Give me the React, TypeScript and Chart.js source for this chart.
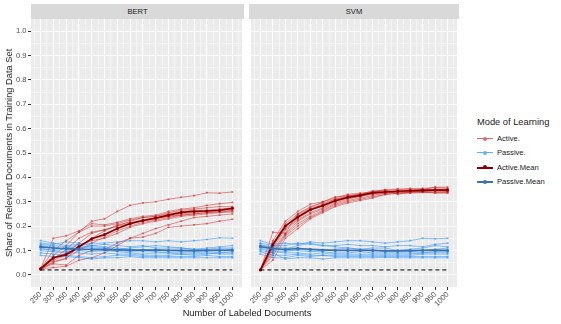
import React, { useEffect, useRef } from "react";
import { Chart, registerables } from "chart.js";

Chart.register(...registerables);

// ---------- data ----------
const DOCS = [250, 300, 350, 400, 450, 500, 550, 600, 650, 700, 750, 800, 850, 900, 950, 1000];
const Y_TICKS = [0, 0.1, 0.2, 0.3, 0.4, 0.5, 0.6, 0.7, 0.8, 0.9, 1.0];
const BASELINE = 0.02;
const PANELS = ["BERT", "SVM"];
const LEGEND_LABELS = ["Active.", "Passive.", "Active.Mean", "Passive.Mean"];

const BERT_ACTIVE_RUNS = [
  [0.025, 0.10, 0.14, 0.175, 0.22, 0.23, 0.26, 0.285, 0.295, 0.30, 0.31, 0.318, 0.325, 0.337, 0.335, 0.34],
  [0.025, 0.15, 0.16, 0.18, 0.21, 0.205, 0.215, 0.23, 0.24, 0.245, 0.26, 0.27, 0.275, 0.285, 0.292, 0.297],
  [0.025, 0.08, 0.12, 0.175, 0.20, 0.20, 0.21, 0.225, 0.235, 0.24, 0.255, 0.265, 0.27, 0.275, 0.28, 0.28],
  [0.02, 0.07, 0.09, 0.13, 0.17, 0.185, 0.20, 0.22, 0.235, 0.24, 0.25, 0.26, 0.265, 0.265, 0.27, 0.275],
  [0.025, 0.06, 0.08, 0.11, 0.15, 0.18, 0.205, 0.215, 0.225, 0.235, 0.24, 0.25, 0.255, 0.26, 0.265, 0.27],
  [0.025, 0.05, 0.07, 0.10, 0.13, 0.155, 0.18, 0.20, 0.215, 0.225, 0.235, 0.245, 0.25, 0.255, 0.258, 0.262],
  [0.02, 0.055, 0.065, 0.12, 0.14, 0.15, 0.17, 0.195, 0.21, 0.22, 0.23, 0.24, 0.245, 0.25, 0.255, 0.258],
  [0.025, 0.045, 0.04, 0.08, 0.10, 0.105, 0.13, 0.15, 0.17, 0.19, 0.205, 0.22, 0.235, 0.24, 0.245, 0.25],
  [0.025, 0.03, 0.035, 0.06, 0.07, 0.09, 0.12, 0.15, 0.155, 0.17, 0.195, 0.20, 0.205, 0.21, 0.22, 0.228],
  [0.025, 0.065, 0.105, 0.15, 0.175, 0.185, 0.20, 0.21, 0.22, 0.23, 0.24, 0.245, 0.25, 0.255, 0.26, 0.265],
];
const BERT_PASSIVE_RUNS = [
  [0.14, 0.13, 0.12, 0.125, 0.13, 0.13, 0.135, 0.14, 0.14, 0.135, 0.14, 0.135, 0.14, 0.145, 0.152, 0.15],
  [0.13, 0.125, 0.135, 0.13, 0.12, 0.125, 0.12, 0.115, 0.12, 0.11, 0.11, 0.11, 0.105, 0.11, 0.115, 0.12],
  [0.12, 0.115, 0.10, 0.11, 0.12, 0.115, 0.11, 0.105, 0.10, 0.105, 0.10, 0.10, 0.10, 0.105, 0.11, 0.11],
  [0.115, 0.11, 0.105, 0.10, 0.095, 0.10, 0.10, 0.10, 0.105, 0.10, 0.10, 0.095, 0.095, 0.10, 0.10, 0.10],
  [0.11, 0.10, 0.11, 0.115, 0.11, 0.10, 0.095, 0.09, 0.085, 0.09, 0.09, 0.09, 0.09, 0.095, 0.09, 0.095],
  [0.10, 0.095, 0.09, 0.09, 0.085, 0.09, 0.085, 0.085, 0.08, 0.08, 0.08, 0.085, 0.08, 0.085, 0.09, 0.09],
  [0.09, 0.085, 0.08, 0.075, 0.07, 0.075, 0.08, 0.08, 0.075, 0.075, 0.075, 0.075, 0.075, 0.08, 0.075, 0.075],
  [0.08, 0.075, 0.075, 0.07, 0.065, 0.07, 0.07, 0.075, 0.07, 0.07, 0.07, 0.07, 0.07, 0.07, 0.07, 0.07],
  [0.125, 0.12, 0.115, 0.12, 0.115, 0.11, 0.105, 0.11, 0.115, 0.12, 0.115, 0.11, 0.105, 0.10, 0.105, 0.105],
  [0.105, 0.10, 0.095, 0.10, 0.105, 0.11, 0.10, 0.095, 0.095, 0.095, 0.09, 0.085, 0.085, 0.09, 0.085, 0.085],
];
const BERT_ACTIVE_MEAN = [0.025, 0.07, 0.083, 0.115, 0.148, 0.165, 0.19, 0.21, 0.223, 0.233, 0.245, 0.256, 0.26, 0.262, 0.265, 0.273];
const BERT_PASSIVE_MEAN = [0.115, 0.11, 0.108, 0.106, 0.104, 0.103, 0.102, 0.101, 0.101, 0.101, 0.10, 0.10, 0.099, 0.10, 0.10, 0.101];

const SVM_ACTIVE_RUNS = [
  [0.02, 0.175, 0.17, 0.25, 0.28, 0.295, 0.31, 0.325, 0.33, 0.34, 0.35, 0.352, 0.35, 0.355, 0.358, 0.355],
  [0.02, 0.14, 0.22, 0.26, 0.29, 0.30, 0.315, 0.33, 0.335, 0.34, 0.345, 0.35, 0.355, 0.35, 0.36, 0.36],
  [0.02, 0.13, 0.20, 0.245, 0.27, 0.29, 0.31, 0.32, 0.33, 0.335, 0.34, 0.345, 0.348, 0.35, 0.352, 0.35],
  [0.02, 0.12, 0.19, 0.23, 0.265, 0.285, 0.305, 0.315, 0.325, 0.34, 0.345, 0.34, 0.345, 0.345, 0.348, 0.345],
  [0.02, 0.11, 0.185, 0.225, 0.255, 0.275, 0.30, 0.315, 0.32, 0.335, 0.338, 0.342, 0.344, 0.342, 0.345, 0.345],
  [0.02, 0.10, 0.17, 0.22, 0.25, 0.27, 0.295, 0.31, 0.325, 0.33, 0.335, 0.34, 0.34, 0.345, 0.345, 0.342],
  [0.02, 0.09, 0.165, 0.21, 0.24, 0.265, 0.29, 0.305, 0.315, 0.325, 0.335, 0.338, 0.34, 0.34, 0.34, 0.34],
  [0.02, 0.08, 0.16, 0.20, 0.235, 0.26, 0.285, 0.30, 0.31, 0.32, 0.33, 0.335, 0.335, 0.338, 0.338, 0.338],
  [0.02, 0.06, 0.15, 0.19, 0.23, 0.255, 0.28, 0.295, 0.305, 0.315, 0.33, 0.335, 0.338, 0.34, 0.335, 0.335],
  [0.02, 0.13, 0.21, 0.25, 0.275, 0.30, 0.32, 0.325, 0.33, 0.345, 0.348, 0.33, 0.34, 0.35, 0.35, 0.352],
];
const SVM_PASSIVE_RUNS = [
  [0.14, 0.125, 0.13, 0.125, 0.135, 0.13, 0.135, 0.14, 0.14, 0.135, 0.13, 0.135, 0.14, 0.15, 0.148, 0.15],
  [0.13, 0.12, 0.12, 0.13, 0.125, 0.12, 0.12, 0.125, 0.12, 0.12, 0.115, 0.12, 0.12, 0.115, 0.125, 0.13],
  [0.125, 0.11, 0.105, 0.12, 0.13, 0.12, 0.115, 0.11, 0.105, 0.11, 0.11, 0.10, 0.105, 0.11, 0.12, 0.115],
  [0.12, 0.115, 0.11, 0.11, 0.105, 0.10, 0.105, 0.11, 0.105, 0.10, 0.10, 0.10, 0.10, 0.10, 0.105, 0.11],
  [0.115, 0.105, 0.10, 0.10, 0.095, 0.10, 0.10, 0.10, 0.10, 0.10, 0.095, 0.095, 0.095, 0.10, 0.10, 0.10],
  [0.11, 0.10, 0.095, 0.105, 0.10, 0.095, 0.09, 0.09, 0.095, 0.09, 0.09, 0.09, 0.09, 0.09, 0.095, 0.095],
  [0.105, 0.095, 0.09, 0.09, 0.085, 0.09, 0.085, 0.085, 0.085, 0.085, 0.085, 0.085, 0.085, 0.09, 0.09, 0.09],
  [0.095, 0.08, 0.08, 0.085, 0.08, 0.08, 0.08, 0.08, 0.08, 0.08, 0.08, 0.08, 0.08, 0.085, 0.085, 0.085],
  [0.085, 0.07, 0.07, 0.08, 0.075, 0.08, 0.075, 0.075, 0.075, 0.075, 0.075, 0.075, 0.075, 0.075, 0.075, 0.075],
  [0.10, 0.09, 0.065, 0.07, 0.07, 0.065, 0.07, 0.07, 0.07, 0.07, 0.072, 0.07, 0.07, 0.07, 0.07, 0.07],
];
const SVM_ACTIVE_MEAN = [0.02, 0.123, 0.20, 0.237, 0.267, 0.284, 0.304, 0.318, 0.326, 0.336, 0.34, 0.343, 0.345, 0.347, 0.348, 0.348];
const SVM_PASSIVE_MEAN = [0.116, 0.108, 0.104, 0.108, 0.105, 0.102, 0.1, 0.1, 0.1, 0.1, 0.098, 0.098, 0.099, 0.1, 0.101, 0.1];

// ---------- styles ----------
const FONT = "'Liberation Sans', Arial, Helvetica, sans-serif";
const COL_ACTIVE = "rgba(200,40,40,0.6)";
const COL_PASSIVE = "rgba(40,145,245,0.62)";
const COL_ACTIVE_MEAN = "#8E0000";
const COL_PASSIVE_MEAN = "#3A73AD";
const LEGEND_COLORS = ["rgb(215,110,110)", "rgb(100,175,245)", COL_ACTIVE_MEAN, COL_PASSIVE_MEAN];
const PANEL_BG = "#EBEBEB";

const X_MIN = 212.5;
const X_MAX = 1037.5;
const Y_MIN = -0.05;
const Y_MAX = 1.05;

const toPts = (ys: number[]) => ys.map((y, i) => ({ x: DOCS[i], y }));

function buildDatasets(activeRuns: number[][], passiveRuns: number[][], activeMean: number[], passiveMean: number[]) {
  const ds: any[] = [];
  activeRuns.forEach((r) =>
    ds.push({ data: toPts(r), borderColor: COL_ACTIVE, backgroundColor: COL_ACTIVE, borderWidth: 0.85, pointRadius: 1.1, pointBorderWidth: 0, order: 5 })
  );
  passiveRuns.forEach((r) =>
    ds.push({ data: toPts(r), borderColor: COL_PASSIVE, backgroundColor: COL_PASSIVE, borderWidth: 0.85, pointRadius: 1.1, pointBorderWidth: 0, order: 4 })
  );
  ds.push({ data: toPts(activeMean), borderColor: COL_ACTIVE_MEAN, backgroundColor: COL_ACTIVE_MEAN, borderWidth: 1.7, pointRadius: 1.5, pointBorderWidth: 0, order: 3 });
  ds.push({ data: toPts(passiveMean), borderColor: COL_PASSIVE_MEAN, backgroundColor: COL_PASSIVE_MEAN, borderWidth: 1.7, pointRadius: 1.5, pointBorderWidth: 0, order: 2 });
  ds.push({
    data: [{ x: DOCS[0], y: BASELINE }, { x: DOCS[DOCS.length - 1], y: BASELINE }],
    borderColor: "#000000", borderWidth: 1, borderDash: [4, 3], pointRadius: 0, order: 1,
  });
  return ds;
}

const bgPlugin = {
  id: "panelBg",
  beforeDraw(chart: any) {
    const { ctx, chartArea } = chart;
    ctx.save();
    ctx.fillStyle = PANEL_BG;
    ctx.fillRect(chartArea.left, chartArea.top, chartArea.right - chartArea.left, chartArea.bottom - chartArea.top);
    ctx.restore();
  },
};

const isMajorX = (v: number) => v % 50 === 0;
const isMajorY = (v: number) => Math.round(v * 100) % 10 === 0;

function makeConfig(datasets: any[], showY: boolean, padLeft: number) {
  const xTicks: number[] = [];
  for (let v = 225; v <= 1025; v += 25) xTicks.push(v);
  const yTicks: number[] = [];
  Y_TICKS.forEach((t, i) => {
    yTicks.push(t);
    if (i < Y_TICKS.length - 1) yTicks.push(Math.round((t + 0.05) * 100) / 100);
  });
  return {
    type: "line",
    data: { datasets },
    plugins: [bgPlugin],
    options: {
      responsive: false,
      animation: false,
      parsing: true,
      layout: { padding: { top: 19, right: 2, left: padLeft, bottom: 0 } },
      plugins: { legend: { display: false }, tooltip: { enabled: false } },
      elements: { line: { tension: 0 } },
      scales: {
        x: {
          type: "linear",
          min: X_MIN,
          max: X_MAX,
          afterBuildTicks: (s: any) => { s.ticks = xTicks.map((v) => ({ value: v })); },
          afterFit: (s: any) => { s.height = 23; },
          border: { display: false },
          grid: {
            color: "#FFFFFF",
            lineWidth: (c: any) => (isMajorX(c.tick.value) ? 1 : 0.5),
            tickColor: (c: any) => (isMajorX(c.tick.value) ? "#333333" : "rgba(0,0,0,0)"),
            tickLength: 3,
            drawTicks: true,
          },
          ticks: {
            autoSkip: false,
            minRotation: 45,
            maxRotation: 45,
            padding: 0,
            color: "#4D4D4D",
            font: { family: FONT, size: 7.6 },
            callback: (v: any) => (isMajorX(Number(v)) ? String(v) : ""),
          },
        },
        y: {
          type: "linear",
          min: Y_MIN,
          max: Y_MAX,
          afterBuildTicks: (s: any) => { s.ticks = yTicks.map((v) => ({ value: v })); },
          afterFit: (s: any) => { s.width = showY ? 31 : 0; },
          border: { display: false },
          grid: {
            color: "#FFFFFF",
            lineWidth: (c: any) => (isMajorY(c.tick.value) ? 1 : 0.5),
            tickColor: (c: any) => (showY && isMajorY(c.tick.value) ? "#333333" : "rgba(0,0,0,0)"),
            tickLength: 3,
            drawTicks: showY,
          },
          ticks: {
            display: showY,
            padding: 1.5,
            color: "#4D4D4D",
            font: { family: FONT, size: 7.6 },
            callback: (v: any) => (isMajorY(Number(v)) ? Number(v).toFixed(1) : ""),
          },
        },
      },
    },
  };
}

export default function App() {
  const leftRef = useRef<HTMLCanvasElement>(null);
  const rightRef = useRef<HTMLCanvasElement>(null);

  useEffect(() => {
    document.body.style.margin = "0";
    const c1 = new Chart(
      leftRef.current as HTMLCanvasElement,
      makeConfig(buildDatasets(BERT_ACTIVE_RUNS, BERT_PASSIVE_RUNS, BERT_ACTIVE_MEAN, BERT_PASSIVE_MEAN), true, 0) as any
    );
    const c2 = new Chart(
      rightRef.current as HTMLCanvasElement,
      makeConfig(buildDatasets(SVM_ACTIVE_RUNS, SVM_PASSIVE_RUNS, SVM_ACTIVE_MEAN, SVM_PASSIVE_MEAN), false, 2) as any
    );
    return () => {
      c1.destroy();
      c2.destroy();
    };
  }, []);

  const strip = (left: number, width: number, label: string) => (
    <div
      style={{
        position: "absolute", left, top: 4, width, height: 15, background: "#D9D9D9",
        color: "#1A1A1A", fontFamily: FONT, fontSize: 7.6, lineHeight: "15px", textAlign: "center",
      }}
    >
      {label}
    </div>
  );

  return (
    <div style={{ position: "relative", width: 561, height: 324, background: "#FFFFFF", overflow: "hidden" }}>
      <canvas ref={leftRef} width={246} height={310} style={{ position: "absolute", left: 0, top: 0 }} />
      <canvas ref={rightRef} width={214} height={310} style={{ position: "absolute", left: 247, top: 0 }} />
      {strip(31, 213, PANELS[0])}
      {strip(249, 210, PANELS[1])}
      <div
        style={{
          position: "absolute", left: 9, top: 153, transform: "translate(-50%, -50%) rotate(-90deg)",
          whiteSpace: "nowrap", fontFamily: FONT, fontSize: 9.3, color: "#1A1A1A", fontWeight: 400,
        }}
      >
        Share of Relevant Documents in Training Data Set
      </div>
      <div
        style={{
          position: "absolute", left: 247, top: 313, transform: "translate(-50%, -50%)",
          whiteSpace: "nowrap", fontFamily: FONT, fontSize: 9.3, color: "#1A1A1A",
        }}
      >
        Number of Labeled Documents
      </div>
      <div style={{ position: "absolute", left: 477, top: 116, fontFamily: FONT, fontSize: 9.3, color: "#1A1A1A", whiteSpace: "nowrap", lineHeight: "13px" }}>
        Mode of Learning
      </div>
      {LEGEND_LABELS.map((lab, i) => (
        <div key={lab} style={{ position: "absolute", left: 477, top: 131 + i * 14.4, height: 15, width: 80 }}>
          <div style={{ position: "absolute", left: 0, top: 7, width: 16, height: i >= 2 ? 2 : 1, background: LEGEND_COLORS[i] }} />
          <div style={{ position: "absolute", left: 6, top: 5.5, width: 4, height: 4, borderRadius: 2, background: LEGEND_COLORS[i] }} />
          <div style={{ position: "absolute", left: 20, top: 0, lineHeight: "15px", fontFamily: FONT, fontSize: 7.6, color: "#1A1A1A", whiteSpace: "nowrap" }}>
            {lab}
          </div>
        </div>
      ))}
    </div>
  );
}
